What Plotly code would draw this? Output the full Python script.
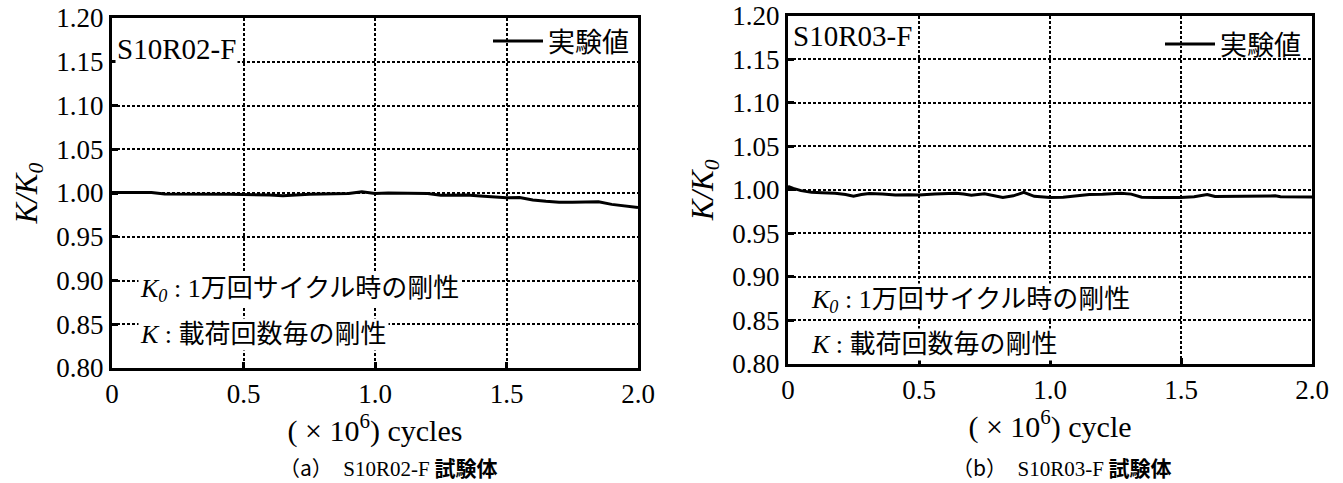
import plotly.graph_objects as go

# ---------------- data ----------------
cycles_a = [0.00, 0.05, 0.10, 0.15, 0.20, 0.25, 0.30, 0.35, 0.40, 0.45, 0.50,
            0.55, 0.60, 0.65, 0.70, 0.75, 0.80, 0.85, 0.90, 0.95, 1.00,
            1.05, 1.10, 1.15, 1.20, 1.25, 1.30, 1.35, 1.40, 1.45, 1.50,
            1.55, 1.60, 1.65, 1.70, 1.75, 1.80, 1.85, 1.90, 1.95, 2.00]
ratio_a = [1.0005, 1.0005, 1.0005, 1.0005, 0.9990, 0.9990, 0.9992, 0.9992, 0.9985, 0.9985, 0.9982,
           0.9982, 0.9978, 0.9970, 0.9980, 0.9985, 0.9990, 0.9990, 0.9995, 1.0015, 0.9995,
           1.0000, 0.9998, 0.9998, 0.9995, 0.9975, 0.9975, 0.9978, 0.9965, 0.9955, 0.9945,
           0.9948, 0.9920, 0.9905, 0.9895, 0.9895, 0.9900, 0.9900, 0.9870, 0.9850, 0.9835]

cycles_b = [0.00, 0.02, 0.05, 0.09, 0.13, 0.18, 0.22, 0.25, 0.28, 0.31, 0.36,
            0.41, 0.46, 0.50, 0.56, 0.60, 0.64, 0.67, 0.70, 0.75, 0.78,
            0.82, 0.86, 0.90, 0.94, 1.00, 1.05, 1.11, 1.15, 1.20, 1.27,
            1.31, 1.35, 1.40, 1.45, 1.50, 1.55, 1.60, 1.63, 1.70, 1.75,
            1.80, 1.86, 1.88, 1.95, 2.00]
ratio_b = [1.0040, 1.0015, 0.9990, 0.9970, 0.9965, 0.9960, 0.9945, 0.9925, 0.9945, 0.9958, 0.9950,
           0.9940, 0.9942, 0.9940, 0.9952, 0.9955, 0.9960, 0.9950, 0.9938, 0.9955, 0.9935,
           0.9912, 0.9930, 0.9970, 0.9925, 0.9910, 0.9915, 0.9930, 0.9945, 0.9948, 0.9960,
           0.9950, 0.9915, 0.9912, 0.9912, 0.9910, 0.9920, 0.9945, 0.9922, 0.9925, 0.9930,
           0.9930, 0.9930, 0.9920, 0.9918, 0.9918]

x_tickvals = [0, 0.5, 1.0, 1.5, 2.0]
x_ticktext = ["0", "0.5", "1.0", "1.5", "2.0"]
y_tickvals = [0.80, 0.85, 0.90, 0.95, 1.00, 1.05, 1.10, 1.15, 1.20]
y_ticktext = ["0.80", "0.85", "0.90", "0.95", "1.00", "1.05", "1.10", "1.15", "1.20"]

series_name = "実験値"
specimen_a = "S10R02-F"
specimen_b = "S10R03-F"
xtitle_a = "( × 10<sup>6</sup>) cycles"
xtitle_b = "( × 10<sup>6</sup>) cycle"
ytitle = "<i>K/K<sub>0</sub></i>"
note1 = "<i>K<sub>0</sub></i> : 1万回サイクル時の剛性"
note2 = "<i>K</i> : 載荷回数毎の剛性"
caption_a = ("（a）　<span style='font-family:Liberation Serif'>S10R02-F</span> <b>試験体</b>")
caption_b = ("（b）　<span style='font-family:Liberation Serif'>S10R03-F</span> <b>試験体</b>")

# ---------------- figure ----------------
W, H = 1343, 483
SERIF = "Liberation Serif"
MIXED = "Liberation Serif, Noto Sans CJK JP"
CJK = "Noto Sans CJK JP"

def px_x(p):
    return p / W

def px_y(p):
    return 1 - p / H

fig = go.Figure()
fig.add_trace(go.Scatter(x=cycles_a, y=ratio_a, mode="lines", name=series_name,
                         line=dict(color="black", width=3), xaxis="x", yaxis="y",
                         legend="legend"))
fig.add_trace(go.Scatter(x=cycles_b, y=ratio_b, mode="lines", name=series_name,
                         line=dict(color="black", width=3), xaxis="x2", yaxis="y2",
                         legend="legend2"))

axis_common = dict(showline=True, linecolor="black", linewidth=3, mirror=True,
                   showgrid=True, gridcolor="black", gridwidth=1.5, griddash="3px,2px",
                   ticks="inside", ticklen=6, tickwidth=3, tickcolor="black",
                   zeroline=False, automargin=False,
                   tickfont=dict(family=SERIF, size=27, color="black"))

fig.update_layout(
    width=W, height=H, margin=dict(l=0, r=0, t=0, b=0, autoexpand=False),
    paper_bgcolor="white", plot_bgcolor="white",
    showlegend=True,
    xaxis=dict(domain=[px_x(112), px_x(638)], range=[0, 2], anchor="y",
               tickvals=x_tickvals, ticktext=x_ticktext,
               title=dict(text=xtitle_a, font=dict(family=SERIF, size=30, color="black"), standoff=4),
               **axis_common),
    yaxis=dict(domain=[px_y(368), px_y(18)], range=[0.8, 1.2], anchor="x",
               tickvals=y_tickvals, ticktext=y_ticktext,
               title=dict(text=ytitle, font=dict(family=SERIF, size=31, color="black"), standoff=10),
               **axis_common),
    xaxis2=dict(domain=[px_x(788), px_x(1312)], range=[0, 2], anchor="y2",
                tickvals=x_tickvals, ticktext=x_ticktext,
                title=dict(text=xtitle_b, font=dict(family=SERIF, size=30, color="black"), standoff=4),
                **axis_common),
    yaxis2=dict(domain=[px_y(364), px_y(15.5)], range=[0.8, 1.2], anchor="x2",
                tickvals=y_tickvals, ticktext=y_ticktext,
                title=dict(text=ytitle, font=dict(family=SERIF, size=31, color="black"), standoff=10),
                **axis_common),
    legend=dict(x=px_x(634), y=px_y(17), xanchor="right", yanchor="top",
                bgcolor="rgba(0,0,0,0)", borderwidth=0, itemwidth=50,
                font=dict(family=CJK, size=27, color="black")),
    legend2=dict(x=px_x(1306), y=px_y(20), xanchor="right", yanchor="top",
                 bgcolor="rgba(0,0,0,0)", borderwidth=0, itemwidth=50,
                 font=dict(family=CJK, size=27, color="black")),
)

annotations = [
    dict(text=specimen_a, x=0.01, y=1.165, xref="x", yref="y", xanchor="left", yanchor="middle",
         showarrow=False, bgcolor="white", font=dict(family=SERIF, size=29, color="black")),
    dict(text=specimen_b, x=0.01, y=1.177, xref="x2", yref="y2", xanchor="left", yanchor="middle",
         showarrow=False, bgcolor="white", font=dict(family=SERIF, size=29, color="black")),
    dict(text=note1, x=0.097, y=0.889, xref="x", yref="y", xanchor="left", yanchor="middle",
         showarrow=False, bgcolor="white", font=dict(family=MIXED, size=26, color="black")),
    dict(text=note2, x=0.097, y=0.838, xref="x", yref="y", xanchor="left", yanchor="middle",
         showarrow=False, bgcolor="white", font=dict(family=MIXED, size=26, color="black")),
    dict(text=note1, x=0.08, y=0.872, xref="x2", yref="y2", xanchor="left", yanchor="middle",
         showarrow=False, bgcolor="white", font=dict(family=MIXED, size=26, color="black")),
    dict(text=note2, x=0.08, y=0.822, xref="x2", yref="y2", xanchor="left", yanchor="middle",
         showarrow=False, bgcolor="white", font=dict(family=MIXED, size=26, color="black")),
    dict(text=caption_a, x=px_x(388), y=px_y(467), xref="paper", yref="paper",
         xanchor="center", yanchor="middle", showarrow=False,
         font=dict(family=CJK, size=21, color="black")),
    dict(text=caption_b, x=px_x(1062), y=px_y(467), xref="paper", yref="paper",
         xanchor="center", yanchor="middle", showarrow=False,
         font=dict(family=CJK, size=21, color="black")),
]
fig.update_layout(annotations=annotations)

fig.write_html("out.html", config={"displayModeBar": False},
               post_script="document.body.style.margin='0px';document.body.style.overflow='hidden';")
